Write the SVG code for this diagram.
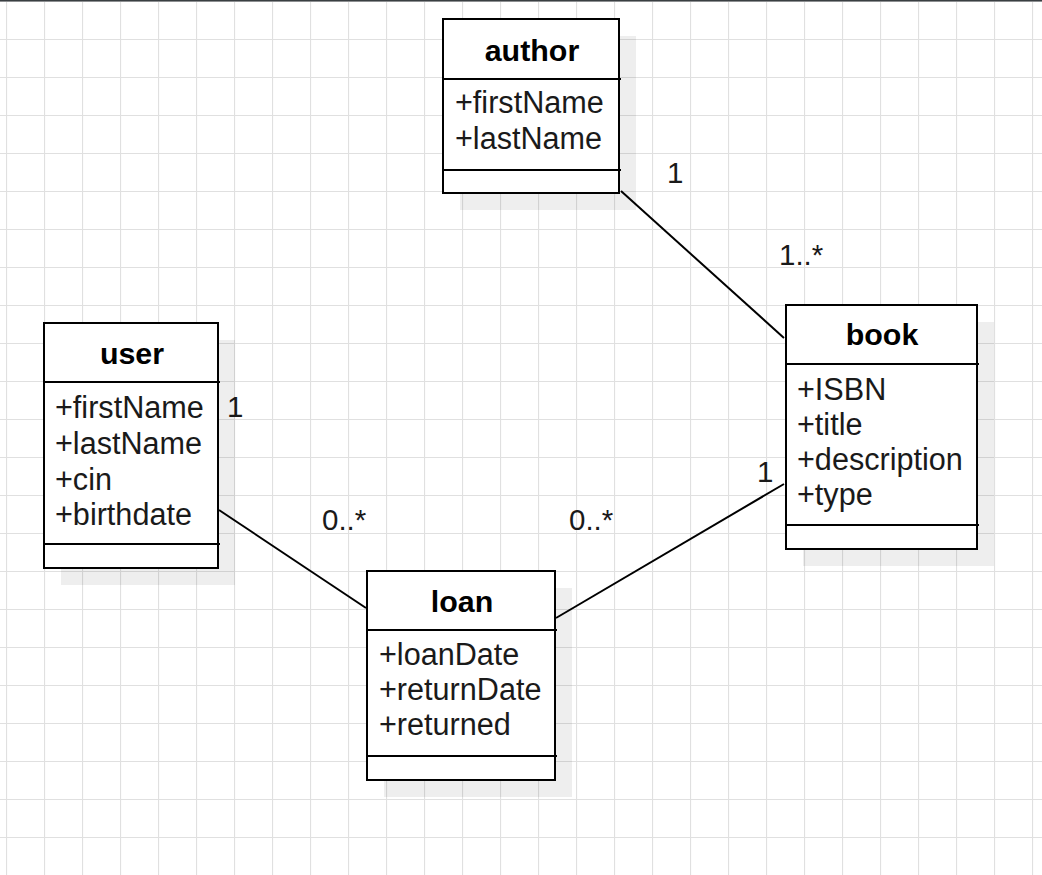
<svg xmlns="http://www.w3.org/2000/svg" width="1042" height="875" viewBox="0 0 1042 875">
<defs>
<pattern id="grid" x="6" y="1" width="38" height="38" patternUnits="userSpaceOnUse">
<path d="M0 0V38M0 0H38" fill="none" stroke="#e0e0e0" stroke-width="2.2"/>
</pattern>
</defs>
<style>
.box{fill:#fff;stroke:#000;stroke-width:2}
.shadow{fill:#000;fill-opacity:0.065}
.div{stroke:#000;stroke-width:2}
.t{font-family:"Liberation Sans",Arial,sans-serif;font-size:30.6px;fill:#1a1a1a}
.title{font-family:"Liberation Sans",Arial,sans-serif;font-size:30.4px;font-weight:bold;fill:#000;text-anchor:middle}
.lbl{font-family:"Liberation Sans",Arial,sans-serif;font-size:29.5px;fill:#1a1a1a}
.edge{stroke:#000;stroke-width:2;fill:none}
</style>
<rect width="1042" height="875" fill="#fff"/>
<rect width="1042" height="875" fill="url(#grid)"/>
<rect x="0" y="0" width="1042" height="1.5" fill="#3a3f42"/>

<g id="connectors">
<line class="edge" x1="621" y1="191" x2="784" y2="338"/>
<line class="edge" x1="219" y1="510" x2="366" y2="608"/>
<line class="edge" x1="556" y1="618" x2="784" y2="484"/>
<text class="lbl" x="667" y="183">1</text>
<text class="lbl" x="779" y="265">1..*</text>
<text class="lbl" x="227" y="417">1</text>
<text class="lbl" x="322" y="530">0..*</text>
<text class="lbl" x="569" y="530">0..*</text>
<text class="lbl" x="757" y="482">1</text>
</g>

<g id="author">
<rect class="shadow" x="460" y="36" width="176" height="174"/>
<rect class="box" x="443" y="19" width="176" height="174"/>
<line class="div" x1="443" y1="79" x2="621" y2="79"/>
<line class="div" x1="443" y1="170" x2="621" y2="170"/>
<text class="title" x="532" y="61">author</text>
<text class="t" x="455" y="113">+firstName</text>
<text class="t" x="455" y="149">+lastName</text>
</g>

<g id="user">
<rect class="shadow" x="61" y="340" width="174" height="245"/>
<rect class="box" x="44" y="323" width="174" height="245"/>
<line class="div" x1="44" y1="382" x2="220" y2="382"/>
<line class="div" x1="44" y1="544" x2="220" y2="544"/>
<text class="title" x="132" y="364">user</text>
<text class="t" x="55" y="418">+firstName</text>
<text class="t" x="55" y="454">+lastName</text>
<text class="t" x="55" y="490">+cin</text>
<text class="t" x="55" y="525">+birthdate</text>
</g>

<g id="book">
<rect class="shadow" x="803" y="322" width="191" height="244"/>
<rect class="box" x="786" y="305" width="191" height="244"/>
<line class="div" x1="786" y1="364" x2="979" y2="364"/>
<line class="div" x1="786" y1="525" x2="979" y2="525"/>
<text class="title" x="882" y="345">book</text>
<text class="t" x="797" y="400">+ISBN</text>
<text class="t" x="797" y="435">+title</text>
<text class="t" x="797" y="470">+description</text>
<text class="t" x="797" y="505">+type</text>
</g>

<g id="loan">
<rect class="shadow" x="384" y="588" width="188" height="209"/>
<rect class="box" x="367" y="571" width="188" height="209"/>
<line class="div" x1="367" y1="630" x2="557" y2="630"/>
<line class="div" x1="367" y1="756" x2="557" y2="756"/>
<text class="title" x="462" y="612">loan</text>
<text class="t" x="379" y="665">+loanDate</text>
<text class="t" x="379" y="700">+returnDate</text>
<text class="t" x="379" y="735">+returned</text>
</g>
</svg>
